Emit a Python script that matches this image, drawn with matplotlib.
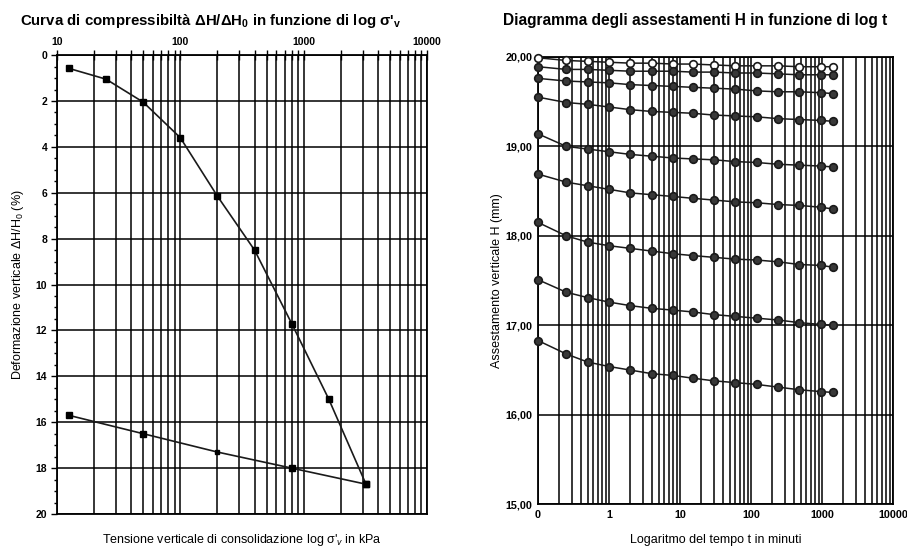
import numpy as np
import matplotlib
matplotlib.use("Agg")
import matplotlib.pyplot as plt
import matplotlib.ticker as mticker

plt.rcParams['font.family'] = ['Liberation Sans', 'DejaVu Sans']
plt.rcParams['mathtext.fontset'] = 'custom'
plt.rcParams['mathtext.rm'] = 'Liberation Sans'
plt.rcParams['mathtext.bf'] = 'Liberation Sans:bold'
plt.rcParams['mathtext.it'] = 'Liberation Sans:italic'

# --- dati: curva di compressibilita (carico e scarico)
sigma_carico = [12.5, 25, 50, 100, 200, 400, 800, 1600, 3200]
def_carico = [0.58, 1.05, 2.05, 3.6, 6.15, 8.5, 11.7, 15.0, 18.7]
sigma_scarico = [3200, 800, 200, 50, 12.5]
def_scarico = [18.7, 18.0, 17.3, 16.5, 15.7]

# --- dati: assestamenti nel tempo (minuti), t=0 disegnato sulla etichetta "0"
tempi = [0, 0.25, 0.5, 1, 2, 4, 8, 15, 30, 60, 120, 240, 480, 960, 1440]
H1 = [19.99, 19.96, 19.95, 19.94, 19.93, 19.93, 19.92, 19.92, 19.91, 19.90, 19.90, 19.90, 19.89, 19.89, 19.89]
H2 = [19.89, 19.86, 19.86, 19.85, 19.84, 19.84, 19.84, 19.83, 19.83, 19.82, 19.82, 19.81, 19.80, 19.80, 19.80]
H3 = [19.76, 19.73, 19.72, 19.71, 19.69, 19.68, 19.67, 19.66, 19.65, 19.64, 19.62, 19.61, 19.61, 19.60, 19.59]
H4 = [19.55, 19.49, 19.47, 19.44, 19.41, 19.39, 19.38, 19.37, 19.35, 19.34, 19.33, 19.31, 19.30, 19.29, 19.28]
H5 = [19.14, 19.00, 18.97, 18.94, 18.91, 18.89, 18.87, 18.86, 18.85, 18.83, 18.82, 18.80, 18.79, 18.78, 18.77]
H6 = [18.69, 18.60, 18.56, 18.52, 18.48, 18.46, 18.44, 18.42, 18.40, 18.38, 18.37, 18.35, 18.34, 18.32, 18.30]
H7 = [18.15, 18.00, 17.93, 17.89, 17.86, 17.83, 17.80, 17.78, 17.76, 17.74, 17.73, 17.71, 17.68, 17.67, 17.65]
H8 = [17.51, 17.37, 17.31, 17.26, 17.22, 17.19, 17.17, 17.15, 17.12, 17.10, 17.08, 17.06, 17.03, 17.01, 17.00]
H9 = [16.83, 16.68, 16.59, 16.54, 16.50, 16.46, 16.44, 16.41, 16.38, 16.36, 16.34, 16.31, 16.28, 16.26, 16.25]
serie_H = [H1, H2, H3, H4, H5, H6, H7, H8, H9]

fig = plt.figure(figsize=(9.07, 5.47), dpi=100)

grid_kw = dict(color='black', linewidth=1.1)

# ---------------- grafico di sinistra
ax1 = fig.add_axes([0.0628, 0.0603, 0.408, 0.839])
ax1.set_xscale('log')
ax1.set_xlim(10, 10000)
ax1.set_ylim(20, 0)
ax1.xaxis.tick_top()
ax1.xaxis.set_major_locator(mticker.FixedLocator([10, 100, 1000, 10000]))
ax1.xaxis.set_major_formatter(mticker.FixedFormatter(['10', '100', '1000', '10000']))
ax1.xaxis.set_minor_locator(mticker.LogLocator(base=10, subs=np.arange(2, 10)))
ax1.xaxis.set_minor_formatter(mticker.NullFormatter())
ax1.yaxis.set_major_locator(mticker.MultipleLocator(2))
ax1.yaxis.set_minor_locator(mticker.MultipleLocator(0.5))
ax1.grid(True, which='both', axis='x', **grid_kw)
ax1.grid(True, which='major', axis='y', **grid_kw)
ax1.tick_params(axis='x', which='major', direction='inout', length=7, width=1, pad=2,
                labelsize=7.5)
ax1.tick_params(axis='x', which='minor', direction='inout', length=7, width=1)
ax1.tick_params(axis='y', which='major', direction='out', length=4, width=1, pad=3,
                labelsize=7.5)
ax1.tick_params(axis='y', which='minor', direction='out', length=2.5, width=1)
for lab in ax1.get_xticklabels() + ax1.get_yticklabels():
    lab.set_fontweight('bold')
for s in ax1.spines.values():
    s.set_linewidth(1.3)

ax1.plot(sigma_carico, def_carico, color='#1a1a1a', lw=1.2, marker='s', ms=5,
         mfc='black', mec='black', zorder=3)
ax1.plot(sigma_scarico, def_scarico, color='#1a1a1a', lw=1.2, marker='s', ms=5,
         mfc='black', mec='black', markevery=[0, 1, 3, 4], zorder=3)
# punto intermedio dello scarico, marcatore piu piccolo
ax1.plot(sigma_scarico, def_scarico, ls='none', marker='s', ms=3.5,
         mfc='black', mec='black', markevery=[2], zorder=3)

ax1.set_ylabel('Deformazione verticale ΔH/H$_0$ (%)', fontsize=9, labelpad=7)
ax1.set_xlabel("Tensione verticale di consolidazione log σ'$_v$ in kPa", fontsize=9)
ax1.xaxis.set_label_position('bottom')
ax1.xaxis.labelpad = 13

fig.text(20 / 907, 1 - 21 / 547,
         "Curva di compressibiltà ΔH/ΔH$_\\mathbf{0}$ in funzione di log σ'$_\\mathbf{v}$",
         fontsize=10.8, fontweight='bold', ha='left', va='center')

# ---------------- grafico di destra
ax2 = fig.add_axes([0.5932, 0.078, 0.3914, 0.818])
ax2.set_xscale('log')
ax2.set_xlim(0.1, 10000)
ax2.set_ylim(15, 20)
ax2.xaxis.set_major_locator(mticker.FixedLocator([0.1, 1, 10, 100, 1000, 10000]))
ax2.xaxis.set_major_formatter(mticker.FixedFormatter(['0', '1', '10', '100', '1000', '10000']))
ax2.xaxis.set_minor_locator(mticker.LogLocator(base=10, subs=np.arange(2, 10)))
ax2.xaxis.set_minor_formatter(mticker.NullFormatter())
ax2.yaxis.set_major_locator(mticker.MultipleLocator(1))
ax2.yaxis.set_major_formatter(mticker.FuncFormatter(lambda v, p: f'{v:.2f}'.replace('.', ',')))
ax2.grid(True, which='both', axis='x', **grid_kw)
ax2.grid(True, which='major', axis='y', **grid_kw)
ax2.tick_params(axis='both', which='both', length=0, labelsize=7.8, pad=4)
for lab in ax2.get_xticklabels() + ax2.get_yticklabels():
    lab.set_fontweight('bold')
for s in ax2.spines.values():
    s.set_linewidth(1.3)

t_plot = [0.1 if t == 0 else t for t in tempi]
for i, H in enumerate(serie_H):
    fc = 'white' if i == 0 else '#383838'
    ax2.plot(t_plot, H, color='#1a1a1a', lw=1.1, marker='o', ms=5.5,
             mfc=fc, mec='#1a1a1a', mew=1.2, zorder=3, clip_on=False)

ax2.set_ylabel('Assestamento verticale H (mm)', fontsize=9, labelpad=2)
ax2.set_xlabel('Logaritmo del tempo t in minuti', fontsize=9, labelpad=10)

fig.text(503 / 907, 1 - 21 / 547, 'Diagramma degli assestamenti H in funzione di log t',
         fontsize=11.2, fontweight='bold', ha='left', va='center')

fig.savefig('out.png', dpi=100)
